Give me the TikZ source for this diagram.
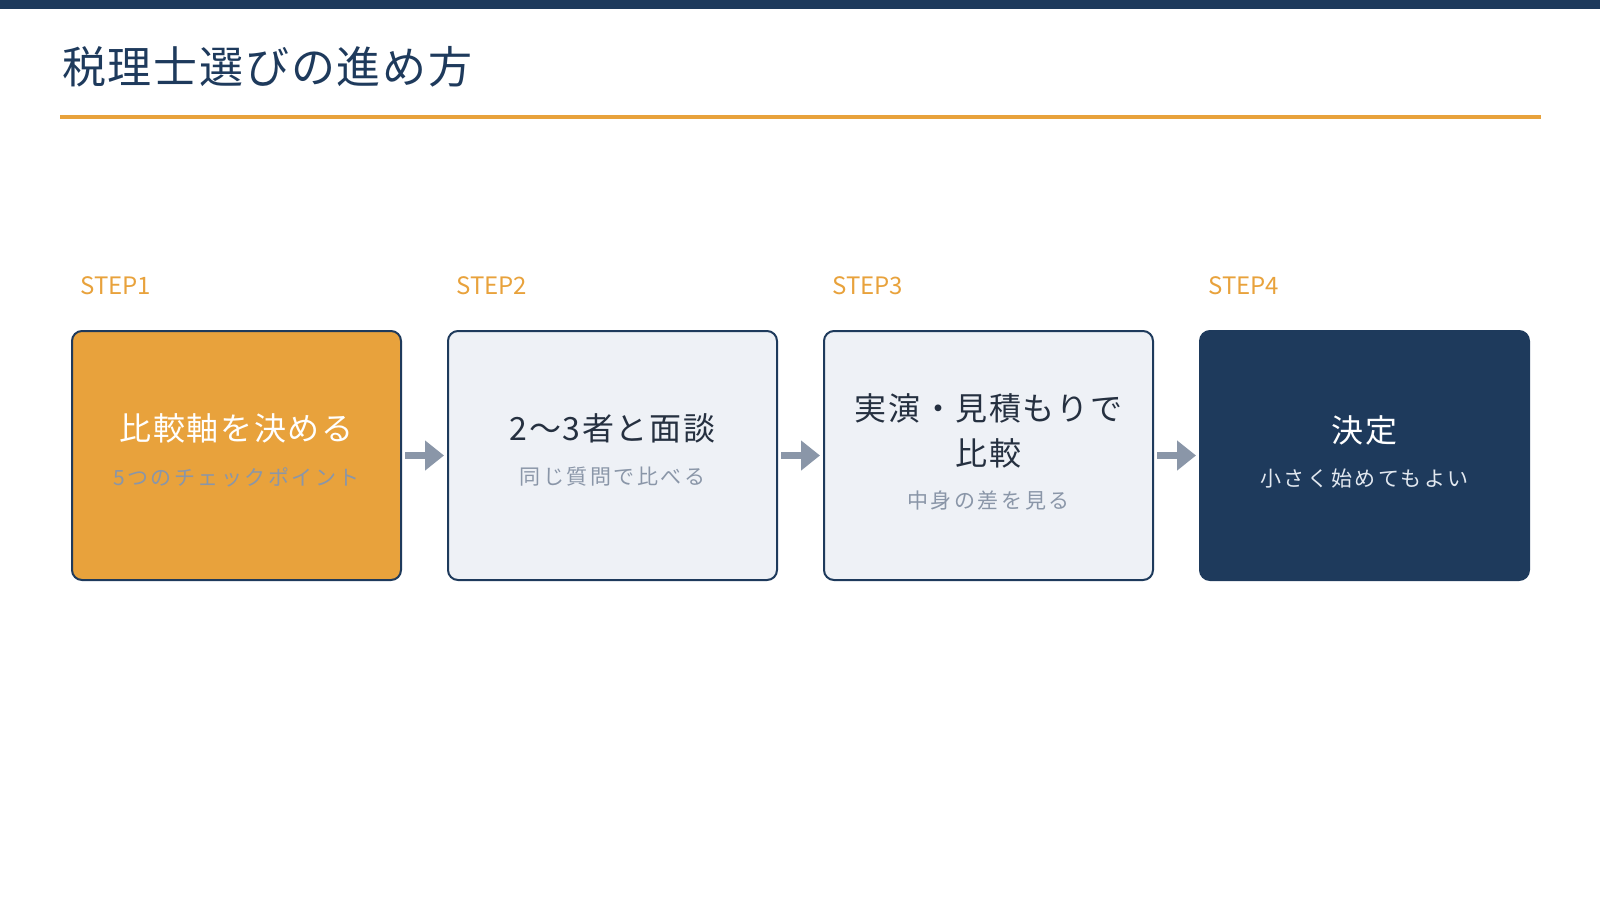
\documentclass[tikz,border=0pt]{standalone}
\usepackage{fontspec}
\setmainfont{Noto Sans CJK JP}
\newfontfamily\titlefont[LetterSpace=4]{Noto Sans CJK JP}
\newfontfamily\boxfont[LetterSpace=5]{Noto Sans CJK JP}
\newfontfamily\notefont[LetterSpace=12]{Noto Sans CJK JP}
\usetikzlibrary{positioning, arrows.meta}
\definecolor{navy}{HTML}{1E3A5C}
\definecolor{accent}{HTML}{E8A23C}
\definecolor{pale}{HTML}{EEF1F6}
\definecolor{ink}{HTML}{253040}
\definecolor{muted}{HTML}{8A96A8}
\definecolor{paletext}{HTML}{E2E8F0}

\tikzset{
  stepbox/.style={draw=navy, line width=2pt, rounded corners=10pt, outer sep=0pt,
    minimum width=329pt, minimum height=249pt, inner sep=0pt},
  steplabel/.style={anchor=base west, inner sep=0pt, text=accent,
    font=\fontsize{24}{28}\selectfont},
  headtext/.style={anchor=base, inner sep=0pt, font=\boxfont\fontsize{32}{45}\selectfont},
  subtext/.style={anchor=base, inner sep=0pt, font=\notefont\fontsize{21}{26}\selectfont},
  flow/.style={draw=muted, line width=6.7pt, shorten <=4pt, shorten >=4pt,
    -{Triangle[length=19pt, width=29pt]}}
}

\begin{document}
\begin{tikzpicture}[x=1pt, y=-1pt]
  \useasboundingbox (0,0) rectangle (1600,900);
  \fill[navy] (0,0) rectangle (1600,9);
  \node[anchor=base west, inner sep=0pt, text=navy,
        font=\titlefont\fontsize{44}{52}\selectfont] (title) at (62,83) {税理士選びの進め方};
  \draw[accent, line width=4pt] (60,116.5) -- (1541,116.5);

  % the four steps
  \node[stepbox, fill=accent] (step1) at (236.5,455.5) {};
  \node[stepbox, fill=pale, right=47pt of step1] (step2) {};
  \node[stepbox, fill=pale, right=47pt of step2] (step3) {};
  \node[stepbox, fill=navy, right=47pt of step3] (step4) {};

  \node[steplabel] (lab1) at ([xshift=8pt, yshift=36.7pt]step1.north west) {STEP1};
  \node[steplabel] (lab2) at ([xshift=8pt, yshift=36.7pt]step2.north west) {STEP2};
  \node[steplabel] (lab3) at ([xshift=8pt, yshift=36.7pt]step3.north west) {STEP3};
  \node[steplabel] (lab4) at ([xshift=8pt, yshift=36.7pt]step4.north west) {STEP4};

  \node[headtext, text=white] (head1) at ([yshift=14.8pt]step1.center) {比較軸を決める};
  \node[subtext, text=muted] (sub1) at ([yshift=-29.5pt]step1.center) {5つのチェックポイント};
  \node[headtext, text=ink] (head2) at ([yshift=14.8pt]step2.center) {2〜3者と面談};
  \node[subtext, text=muted] (sub2) at ([yshift=-29pt]step2.center) {同じ質問で比べる};
  \node[headtext, text=ink, align=center] (head3) at ([yshift=-10.2pt]step3.center) {実演・見積もりで\\比較};
  \node[subtext, text=muted] (sub3) at ([yshift=-52.5pt]step3.center) {中身の差を見る};
  \node[headtext, text=white] (head4) at ([yshift=13.3pt]step4.center) {決定};
  \node[subtext, text=paletext] (sub4) at ([yshift=-30.5pt]step4.center) {小さく始めてもよい};

  \draw[flow] (step1.east) -- (step2.west);
  \draw[flow] (step2.east) -- (step3.west);
  \draw[flow] (step3.east) -- (step4.west);
\end{tikzpicture}
\end{document}
